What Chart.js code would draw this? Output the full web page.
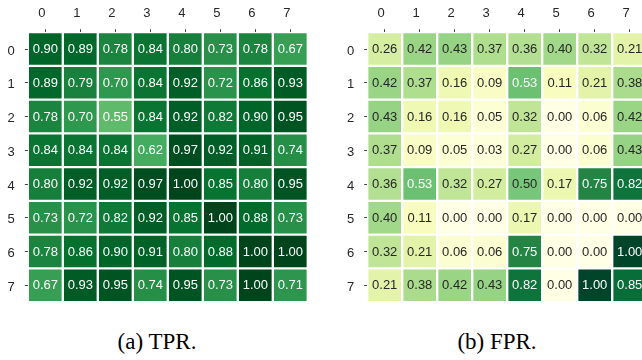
<!DOCTYPE html>
<html>
<head>
<meta charset="utf-8">
<script src="https://cdn.jsdelivr.net/npm/chart.js@4/dist/chart.umd.min.js"></script>
<style>
  html, body { margin: 0; padding: 0; background: #ffffff; }
  body { width: 642px; height: 360px; position: relative; overflow: hidden; }
  canvas { position: absolute; top: 0; }
  #tprCanvas { left: 0; }
  #fprCanvas { left: 321px; }
  .caption {
    position: absolute; top: 329px; width: 200px; text-align: center;
    font-family: "Liberation Serif", "Times New Roman", serif;
    font-size: 23px; line-height: 26px; color: #000;
  }
</style>
</head>
<body>
<canvas id="tprCanvas" width="321" height="320"></canvas>
<canvas id="fprCanvas" width="330" height="320"></canvas>
<div class="caption" style="left:57px">(a) TPR.</div>
<div class="caption" style="left:397px">(b) FPR.</div>
<script>
// Class indices shown on both axes
const colLabels = ['0', '1', '2', '3', '4', '5', '6', '7'];
const rowLabels = ['0', '1', '2', '3', '4', '5', '6', '7'];

// True positive rate, one row per class
const tpr = [
  [0.90, 0.89, 0.78, 0.84, 0.80, 0.73, 0.78, 0.67],
  [0.89, 0.79, 0.70, 0.84, 0.92, 0.72, 0.86, 0.93],
  [0.78, 0.70, 0.55, 0.84, 0.92, 0.82, 0.90, 0.95],
  [0.84, 0.84, 0.84, 0.62, 0.97, 0.92, 0.91, 0.74],
  [0.80, 0.92, 0.92, 0.97, 1.00, 0.85, 0.80, 0.95],
  [0.73, 0.72, 0.82, 0.92, 0.85, 1.00, 0.88, 0.73],
  [0.78, 0.86, 0.90, 0.91, 0.80, 0.88, 1.00, 1.00],
  [0.67, 0.93, 0.95, 0.74, 0.95, 0.73, 1.00, 0.71]
];

// False positive rate, one row per class
const fpr = [
  [0.26, 0.42, 0.43, 0.37, 0.36, 0.40, 0.32, 0.21],
  [0.42, 0.37, 0.16, 0.09, 0.53, 0.11, 0.21, 0.38],
  [0.43, 0.16, 0.16, 0.05, 0.32, 0.00, 0.06, 0.42],
  [0.37, 0.09, 0.05, 0.03, 0.27, 0.00, 0.06, 0.43],
  [0.36, 0.53, 0.32, 0.27, 0.50, 0.17, 0.75, 0.82],
  [0.40, 0.11, 0.00, 0.00, 0.17, 0.00, 0.00, 0.00],
  [0.32, 0.21, 0.06, 0.06, 0.75, 0.00, 0.00, 1.00],
  [0.21, 0.38, 0.42, 0.43, 0.82, 0.00, 1.00, 0.85]
];

// Sequential colour maps (ColorBrewer anchors, linear in between)
const GREENS = ['#f7fcf5','#e5f5e0','#c7e9c0','#a1d99b','#74c476','#41ab5d','#238b45','#006d2c','#00441b'];
const YLGN   = ['#ffffe5','#f7fcb9','#d9f0a3','#addd8e','#78c679','#41ab5d','#238443','#006837','#004529'];

function hexToRgb(h) {
  return [parseInt(h.slice(1, 3), 16), parseInt(h.slice(3, 5), 16), parseInt(h.slice(5, 7), 16)];
}
function colormap(anchors, v) {
  const t = Math.max(0, Math.min(1, v)) * (anchors.length - 1);
  const i = Math.min(Math.floor(t), anchors.length - 2);
  const f = t - i;
  const a = hexToRgb(anchors[i]), b = hexToRgb(anchors[i + 1]);
  const c = a.map((x, k) => Math.round(x + (b[k] - x) * f));
  return `rgb(${c[0]},${c[1]},${c[2]})`;
}

// Writes each cell's value in its centre
const cellLabels = {
  id: 'cellLabels',
  afterDatasetsDraw(chart, args, opts) {
    const ctx = chart.ctx;
    ctx.save();
    ctx.font = '13px "Liberation Sans", Arial, sans-serif';
    ctx.textAlign = 'center';
    ctx.textBaseline = 'middle';
    chart.data.datasets.forEach((ds, di) => {
      const meta = chart.getDatasetMeta(di);
      meta.data.forEach((el, j) => {
        const v = ds.data[j].v;
        const p = el.getCenterPoint();
        ctx.fillStyle = opts.textColor(v);
        ctx.fillText(v.toFixed(2), p.x, p.y + 0.5);
      });
    });
    ctx.restore();
  }
};

function buildHeatmap(canvasId, values, anchors, textColor, yAxisWidth, rightPad) {
  const datasets = values.map((row, r) => ({
    data: row.map((v, c) => ({ x: colLabels[c], y: [r - 0.5, r + 0.5], v: v })),
    backgroundColor: row.map(v => colormap(anchors, v)),
    borderColor: '#ffffff',
    borderWidth: 1.5,
    borderSkipped: false,
    grouped: false,
    categoryPercentage: 1,
    barPercentage: 1
  }));

  const tickFont = { family: '"Liberation Sans", Arial, sans-serif', size: 13 };

  return new Chart(document.getElementById(canvasId), {
    type: 'bar',
    data: { labels: colLabels, datasets: datasets },
    plugins: [cellLabels],
    options: {
      responsive: false,
      animation: false,
      devicePixelRatio: 1,
      layout: { padding: { left: 0, top: 0, right: rightPad, bottom: 6.5 } },
      plugins: {
        legend: { display: false },
        tooltip: { enabled: false },
        cellLabels: { textColor: textColor }
      },
      scales: {
        x: {
          type: 'category',
          position: 'top',
          offset: true,
          grid: { display: true, offset: false, drawOnChartArea: false, drawTicks: true, tickLength: 3, color: '#444', lineWidth: 1 },
          border: { display: false },
          ticks: { color: '#262626', font: tickFont, padding: 8, labelOffset: -3.5, maxRotation: 0 },
          afterFit(s) { s.height = 32.2; }
        },
        y: {
          type: 'linear',
          min: -0.5,
          max: 7.5,
          reverse: true,
          grid: { display: true, drawOnChartArea: false, drawTicks: true, tickLength: 3, color: '#444', lineWidth: 1 },
          border: { display: false },
          afterBuildTicks(s) { s.ticks = rowLabels.map((_, i) => ({ value: i })); },
          ticks: {
            color: '#262626', font: tickFont, padding: 10, labelOffset: 2,
            callback: v => rowLabels[v]
          },
          afterFit(s) { s.width = yAxisWidth; }
        }
      }
    }
  });
}

buildHeatmap('tprCanvas', tpr, GREENS, () => '#ffffff', 27.8, 321 - 27.8 - 280);
buildHeatmap('fprCanvas', fpr, YLGN, v => (v > 0.5 ? '#ffffff' : '#262626'), 46.2, 330 - 46.2 - 280);
</script>
</body>
</html>
